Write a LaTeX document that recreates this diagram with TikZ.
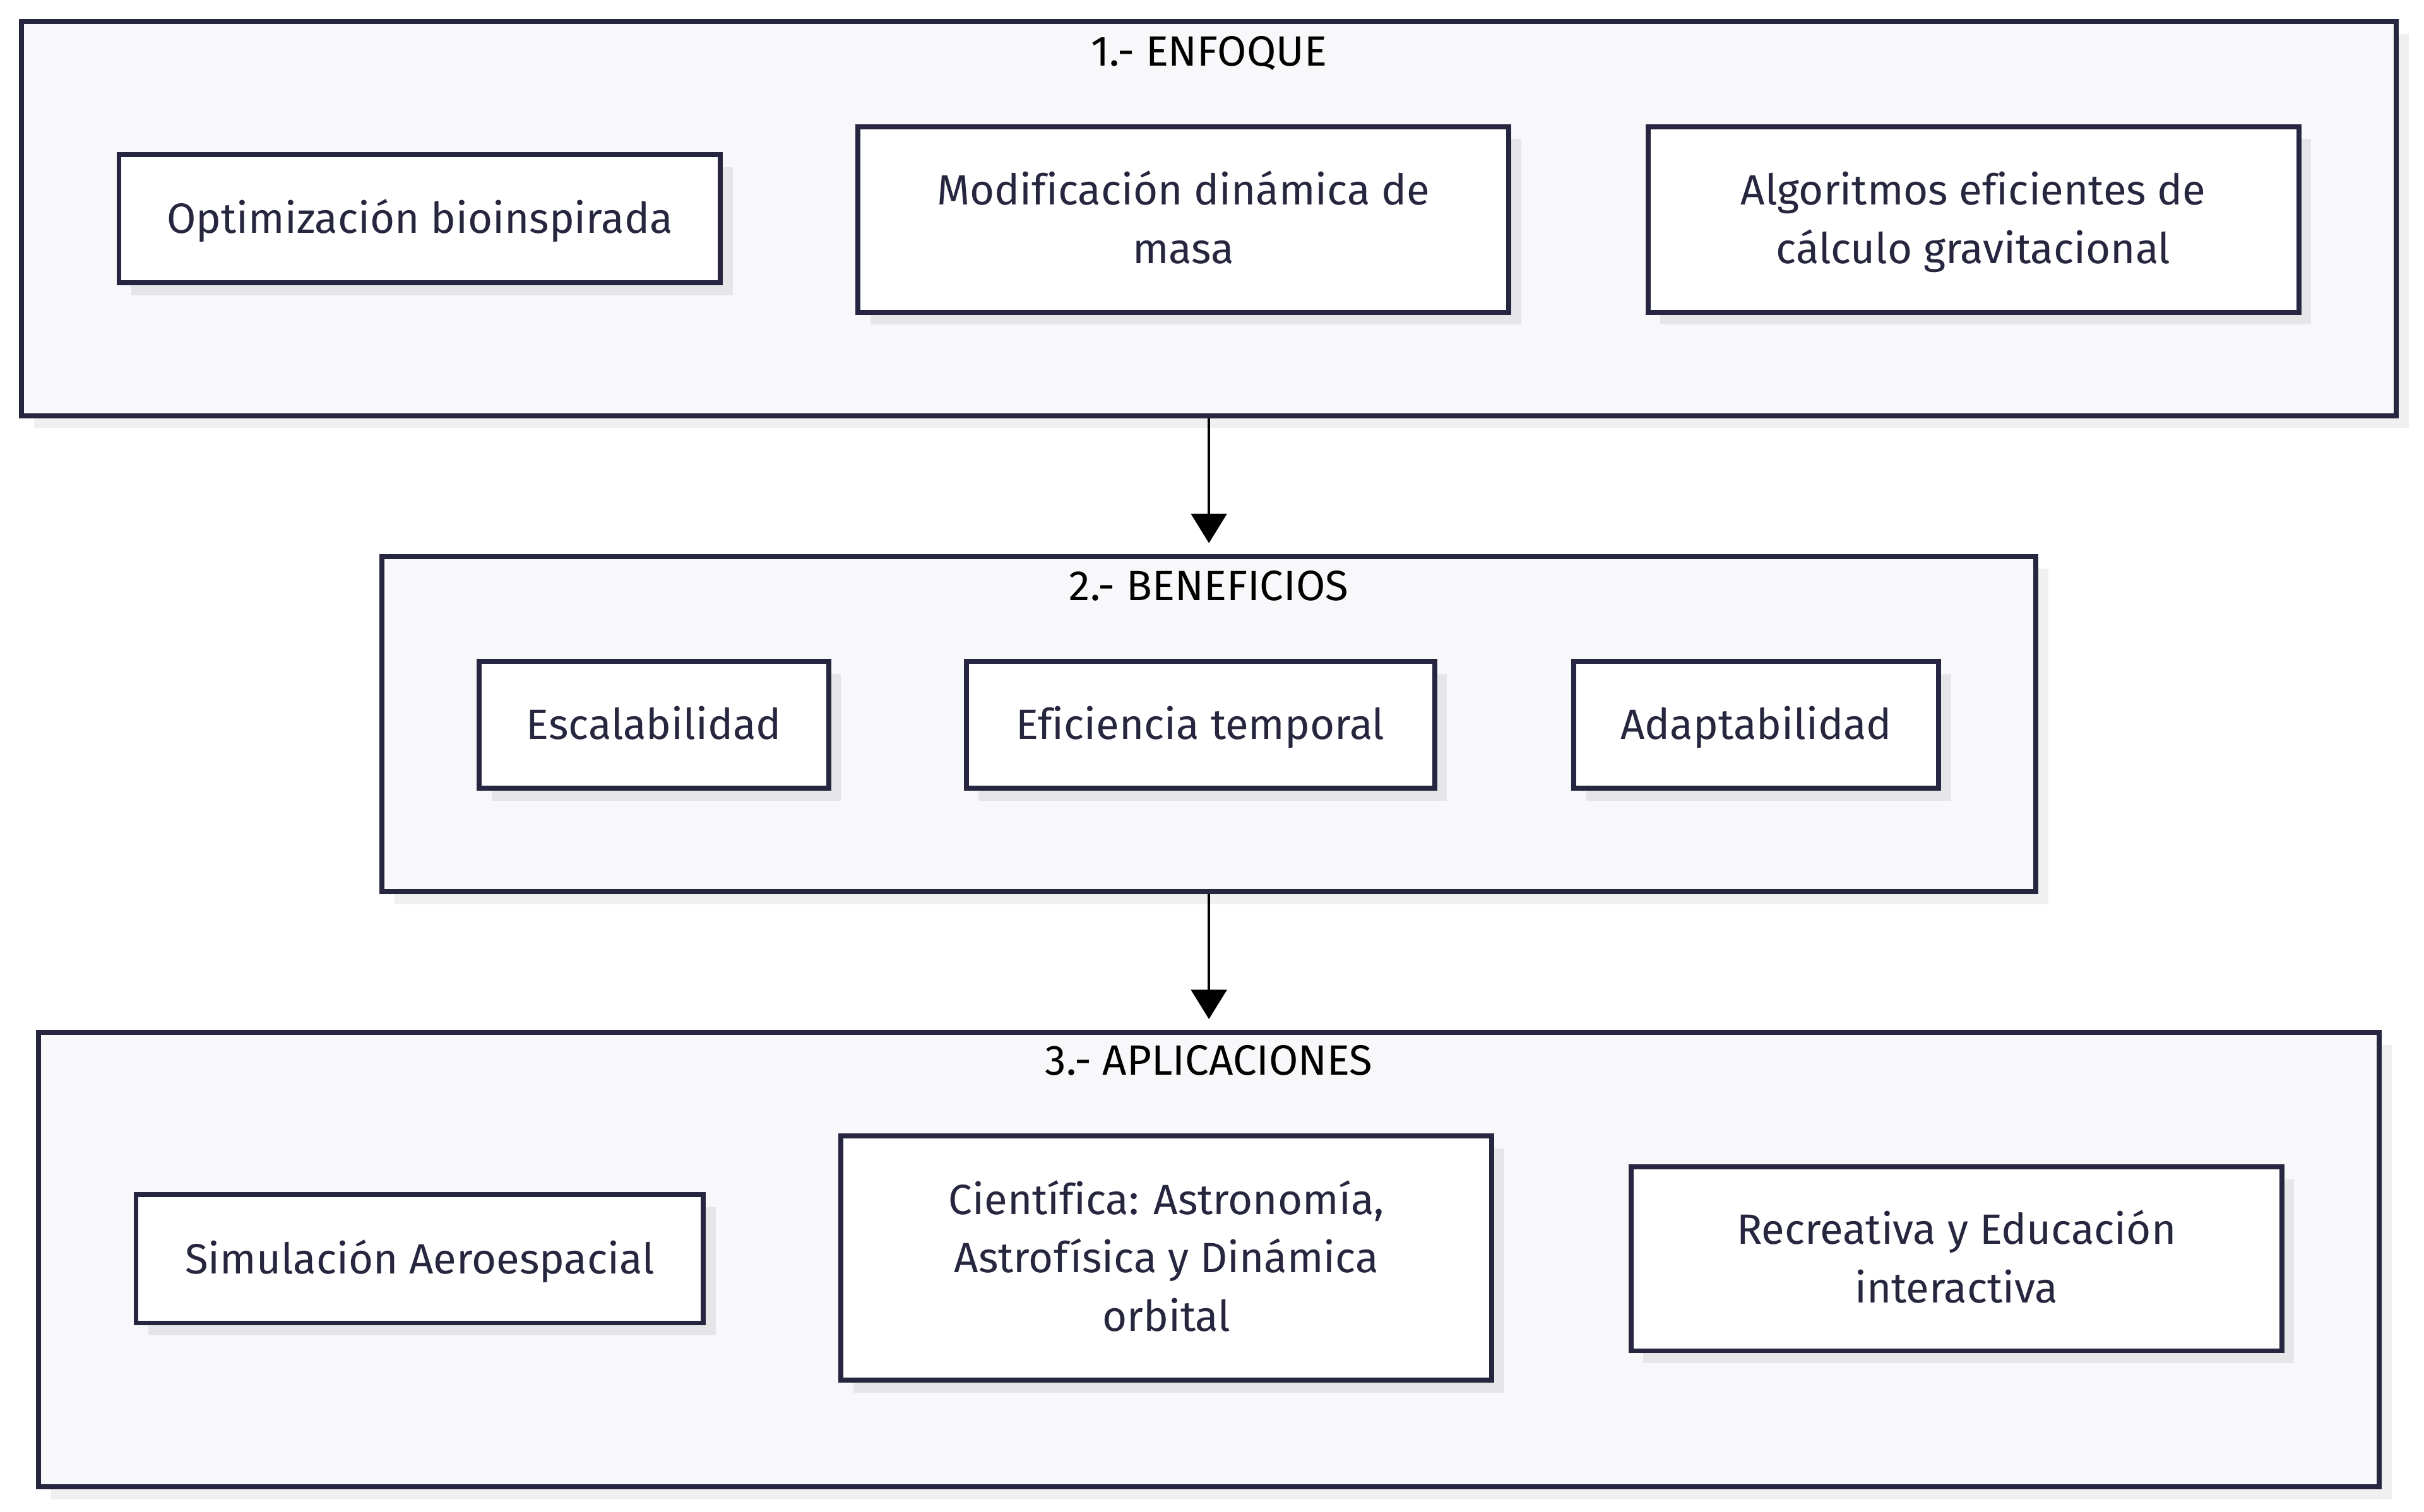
\documentclass[tikz,border=0pt]{standalone}
\usepackage{fontspec}
\setmainfont[Ligatures=NoCommon]{Fira Sans}
\usetikzlibrary{arrows.meta,shadows}
\definecolor{edgenavy}{HTML}{272640}
\definecolor{clusterbg}{HTML}{F8F8FA}
\definecolor{textnavy}{HTML}{26263F}
% line struts for the box texts
\newcommand{\lntop}{\rule{0pt}{17.3pt}}
\newcommand{\lnbot}{\rule[-6.45pt]{0pt}{6.45pt}}
\newcommand{\itxt}[1]{\lntop#1\lnbot}
\begin{document}
\begin{tikzpicture}[
    every node/.style={font=\fontsize{15.6}{21.5}\selectfont},
    cluster/.style={draw=edgenavy, line width=1.8pt, fill=clusterbg,
        drop shadow={shadow xshift=0.16cm, shadow yshift=-0.16cm, fill=black, opacity=0.06}},
    ttl/.style={text=black, inner sep=0pt, execute at begin node=\strut},
    item/.style={draw=edgenavy, line width=1.8pt, fill=white, text=textnavy,
        align=center, inner sep=0pt,
        drop shadow={shadow xshift=0.16cm, shadow yshift=-0.16cm, fill=black, opacity=0.07}},
    arr/.style={line width=1pt, -{Triangle[width=0.46cm, length=0.38cm]}, shorten >=0.14cm}
]
\useasboundingbox (0,0) rectangle (31.36,-19.56);

% clusters
\node[cluster, minimum width=30.72cm, minimum height=5.10cm] (enfoque) at (15.64,-2.83) {};
\node[cluster, minimum width=21.40cm, minimum height=4.34cm] (beneficios) at (15.64,-9.37) {};
\node[cluster, minimum width=30.28cm, minimum height=5.88cm] (aplicaciones) at (15.64,-16.30) {};

\node[ttl] (t1) at (15.64,-0.70) {1.- ENFOQUE};
\node[ttl] (t2) at (15.64,-7.62) {2.- BENEFICIOS};
\node[ttl] (t3) at (15.64,-13.76) {3.- APLICACIONES};

% 1.- enfoque
\node[item, minimum width=7.78cm, minimum height=1.66cm] (opt) at (5.43,-2.83) {\itxt{Optimización bioinspirada}};
\node[item, minimum width=8.42cm, minimum height=2.40cm] (mod) at (15.31,-2.84) {\itxt{Modificación dinámica de\\masa}};
\node[item, minimum width=8.42cm, minimum height=2.40cm] (alg) at (25.53,-2.84) {\itxt{Algoritmos eficientes de\\cálculo gravitacional}};

% 2.- beneficios
\node[item, minimum width=4.52cm, minimum height=1.64cm] (esc) at (8.46,-9.38) {\itxt{Escalabilidad}};
\node[item, minimum width=6.06cm, minimum height=1.64cm] (efi) at (15.53,-9.38) {\itxt{Eficiencia temporal}};
\node[item, minimum width=4.72cm, minimum height=1.64cm] (ada) at (22.72,-9.38) {\itxt{Adaptabilidad}};

% 3.- aplicaciones
\node[item, minimum width=7.34cm, minimum height=1.66cm] (sim) at (5.43,-16.29) {\itxt{Simulación Aeroespacial}};
\node[item, minimum width=8.42cm, minimum height=3.16cm] (cie) at (15.09,-16.28) {\itxt{Científica: Astronomía,\\Astrofísica y Dinámica\\orbital}};
\node[item, minimum width=8.42cm, minimum height=2.38cm] (rec) at (25.31,-16.29) {\itxt{Recreativa y Educación\\interactiva}};

\draw[arr] (enfoque.south) -- (beneficios.north);
\draw[arr] (beneficios.south) -- (aplicaciones.north);
\end{tikzpicture}
\end{document}
